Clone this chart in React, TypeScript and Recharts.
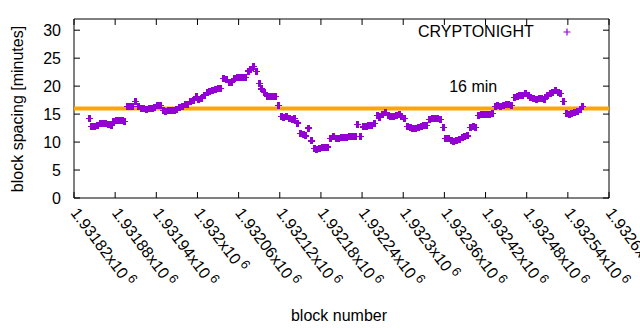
import React from 'react';
import {
  ScatterChart,
  Scatter,
  XAxis,
  YAxis,
  ReferenceLine,
  ReferenceArea,
  ReferenceDot,
  Legend,
} from 'recharts';

// ---- data ----
const seriesName = 'CRYPTONIGHT';
const firstBlock = 1931842;
const blockStep = 4;
const spacingMinutes = [
  14.2, 12.8, 12.7, 12.9, 13.4, 13.4, 13.3, 13.1, 13.0, 13.7,
  13.8, 13.8, 13.8, 13.7, 16.3, 16.4, 16.3, 17.2, 16.4, 16.0,
  16.0, 15.9, 16.0, 16.0, 16.1, 16.6, 16.6, 15.6, 15.5, 15.6,
  15.6, 15.7, 15.9, 16.2, 16.3, 16.7, 16.8, 17.3, 17.5, 18.2,
  17.6, 17.8, 18.4, 18.8, 19.0, 19.3, 19.4, 19.5, 19.6, 21.4,
  21.2, 20.7, 20.7, 21.3, 21.5, 21.5, 21.6, 21.6, 22.7, 22.9,
  23.5, 22.6, 20.5, 19.5, 18.8, 18.1, 18.1, 18.1, 18.1, 16.5,
  14.6, 14.4, 14.5, 14.3, 14.1, 14.2, 13.4, 11.6, 11.4, 11.1,
  12.5, 10.2, 8.9, 8.7, 8.8, 9.0, 9.0, 9.1, 10.7, 11.0,
  10.7, 10.6, 10.8, 10.8, 10.8, 11.0, 11.0, 11.0, 13.2, 11.0,
  12.7, 12.8, 12.9, 13.0, 13.3, 14.7, 14.4, 15.0, 15.3, 14.8,
  14.5, 14.6, 14.8, 14.9, 14.6, 14.2, 12.8, 12.6, 12.5, 12.5,
  12.6, 12.8, 12.9, 13.0, 14.1, 14.2, 14.3, 14.2, 14.1, 12.6,
  10.7, 10.6, 10.2, 10.1, 10.2, 10.4, 10.8, 11.0, 11.1, 12.6,
  12.8, 12.6, 14.7, 14.9, 15.0, 14.9, 15.0, 15.1, 16.3, 16.5,
  16.4, 16.6, 16.7, 16.8, 16.6, 18.0, 18.2, 18.3, 18.4, 18.6,
  18.3, 18.0, 17.8, 17.6, 17.8, 17.7, 17.6, 18.4, 18.6, 18.9,
  19.2, 18.9, 18.7, 17.2, 15.1, 15.0, 15.1, 15.3, 15.5, 15.8,
  16.4,
];
const xTicks = [
  1931820, 1931880, 1931940, 1932000, 1932060, 1932120, 1932180,
  1932240, 1932300, 1932360, 1932420, 1932480, 1932540, 1932600,
];
const yTicks = [0, 5, 10, 15, 20, 25, 30];
const xDomain = [1931820, 1932600];
const yDomain = [0, 32];
const targetMinutes = 16;
const targetLabel = '16 min';
const targetLabelAt = { block: 1932367, minutes: 20 };
const xTitle = 'block number';
const yTitle = 'block spacing [minutes]';

const data = spacingMinutes.map((v, i) => ({
  block: firstBlock + i * blockStep,
  spacing: v,
}));

// ---- styles ----
const FONT = '"Liberation Sans", Arial, sans-serif';
const PURPLE = '#9400D3';
const ORANGE = '#FFA500';
const X_TICK_LEN = 8.75; // in blocks (~6px)
const Y_TICK_LEN = 1.07; // in minutes (~6px)

const Cross = (props: any) => {
  const { cx, cy } = props;
  if (cx == null || cy == null) return null;
  return (
    <g shapeRendering="crispEdges">
      <path d={`M${cx - 3.5},${cy}H${cx + 3.5}`} stroke={PURPLE} strokeWidth={1.2} />
      <path d={`M${cx},${cy - 3.5}V${cy + 3.5}`} stroke={PURPLE} strokeWidth={3} />
    </g>
  );
};

const XTick = (props: any) => {
  const { x, y, payload } = props;
  const mant = String(payload.value / 1e6);
  return (
    <g transform={`translate(${x - 4},${y + 15}) rotate(53)`}>
      <text x={0} y={0} textAnchor="start" fontSize={16} fill="#000" fontFamily={FONT}>
        {mant}x10
        <tspan dx={3} dy={-6} fontSize={13}>6</tspan>
      </text>
    </g>
  );
};

const LegendContent = () => (
  <svg width={170} height={24} style={{ display: 'block' }}>
    <text x={0} y={17} fontSize={16} fill="#000" fontFamily={FONT}>
      {seriesName}
    </text>
    <path d="M145.5,12H152.5M149,8.5V15.5" stroke={PURPLE} strokeWidth={1.2} fill="none" />
  </svg>
);

export default function App() {
  return (
    <div style={{ position: 'absolute', left: 0, top: 0, width: 640, height: 330, background: '#fff', fontFamily: FONT }}>
      <ScatterChart width={640} height={330} margin={{ top: 19, right: 31, left: 0, bottom: 0 }}>
        <XAxis
          type="number"
          dataKey="block"
          domain={xDomain}
          ticks={xTicks}
          interval={0}
          allowDataOverflow
          axisLine={false}
          tickLine={false}
          tickSize={0}
          tickMargin={0}
          height={132}
          tick={<XTick />}
          label={{
            content: () => (
              <text x={339} y={321} textAnchor="middle" fontSize={16} fill="#000" fontFamily={FONT}>
                {xTitle}
              </text>
            ),
          }}
        />
        <YAxis
          type="number"
          dataKey="spacing"
          domain={yDomain}
          ticks={yTicks}
          interval={0}
          allowDataOverflow
          axisLine={false}
          tickLine={false}
          tickSize={0}
          tickMargin={13}
          width={74}
          tick={{ fontSize: 16, fill: '#000', fontFamily: FONT }}
          label={{
            content: () => (
              <text
                x={17}
                y={109}
                transform="rotate(-90 17 109)"
                textAnchor="middle"
                dominantBaseline="central"
                fontSize={16}
                fill="#000"
                fontFamily={FONT}
              >
                {yTitle}
              </text>
            ),
          }}
        />
        <ReferenceArea
          x1={xDomain[0]}
          x2={xDomain[1]}
          y1={yDomain[0]}
          y2={yDomain[1]}
          fill="none"
          fillOpacity={0}
          stroke="#000"
          strokeWidth={1}
          ifOverflow="visible"
        />
        {xTicks.map((t) => (
          <ReferenceLine
            key={`xb${t}`}
            segment={[{ x: t, y: yDomain[0] }, { x: t, y: yDomain[0] + Y_TICK_LEN }]}
            stroke="#000"
            strokeWidth={1}
          />
        ))}
        {xTicks.map((t) => (
          <ReferenceLine
            key={`xt${t}`}
            segment={[{ x: t, y: yDomain[1] }, { x: t, y: yDomain[1] - Y_TICK_LEN }]}
            stroke="#000"
            strokeWidth={1}
          />
        ))}
        {yTicks.map((t) => (
          <ReferenceLine
            key={`yl${t}`}
            segment={[{ x: xDomain[0], y: t }, { x: xDomain[0] + X_TICK_LEN, y: t }]}
            stroke="#000"
            strokeWidth={1}
          />
        ))}
        {yTicks.map((t) => (
          <ReferenceLine
            key={`yr${t}`}
            segment={[{ x: xDomain[1], y: t }, { x: xDomain[1] - X_TICK_LEN, y: t }]}
            stroke="#000"
            strokeWidth={1}
          />
        ))}
        <Scatter
          name={seriesName}
          data={data}
          fill={PURPLE}
          shape={<Cross />}
          isAnimationActive={false}
        />
        <ReferenceLine y={targetMinutes} stroke={ORANGE} strokeWidth={4} ifOverflow="visible" />
        <ReferenceDot
          x={targetLabelAt.block}
          y={targetLabelAt.minutes}
          r={0}
          shape={(p: any) => (
            <text x={p.cx} y={p.cy} dominantBaseline="central" fontSize={16} fill="#000" fontFamily={FONT}>
              {targetLabel}
            </text>
          )}
        />
        <Legend
          layout="horizontal"
          verticalAlign="middle"
          align="center"
          content={<LegendContent />}
          wrapperStyle={{ position: 'absolute', left: 418, top: 20, width: 170, height: 24 }}
        />
      </ScatterChart>
    </div>
  );
}
